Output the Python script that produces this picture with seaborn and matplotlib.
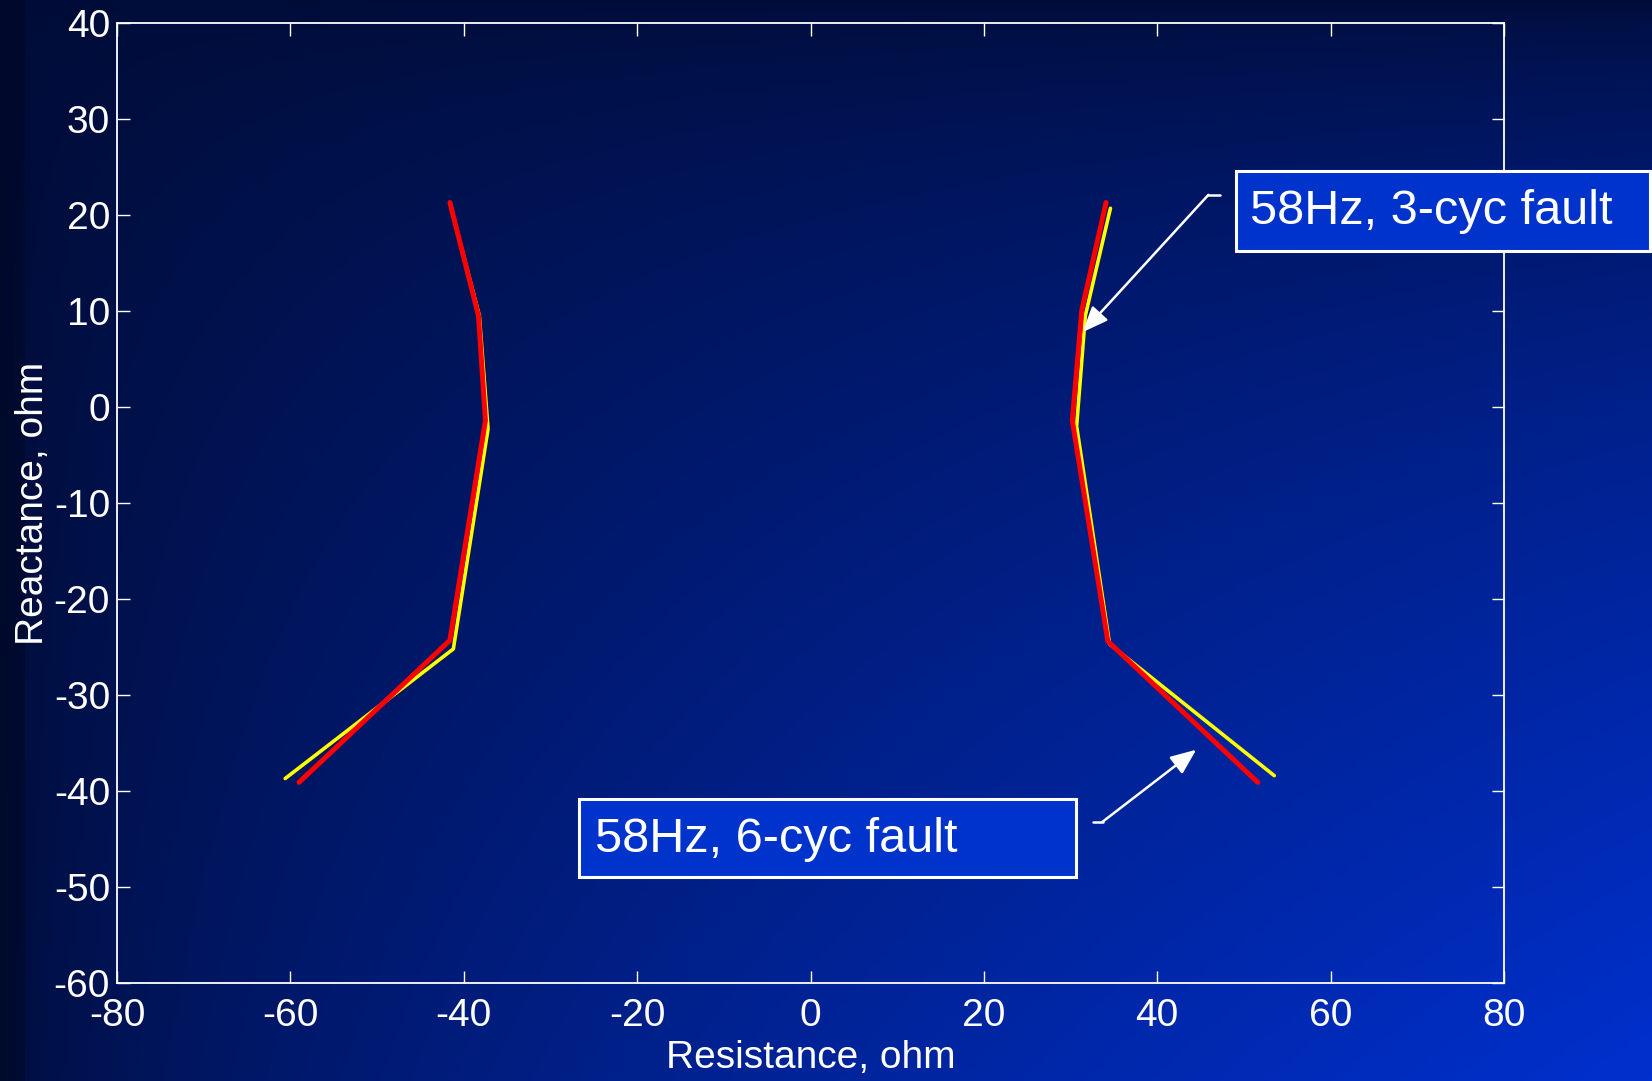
import numpy as np
import pandas as pd
import matplotlib
matplotlib.use("Agg")
import matplotlib.pyplot as plt
import matplotlib.patches as mpatches
import seaborn as sns

# ---- data ----
left_red_r = [-41.6, -38.3, -37.5, -41.6, -59.0]
left_red_x = [21.3, 9.5, -1.4, -24.3, -39.1]
left_yel_r = [-41.4, -38.2, -37.2, -41.2, -60.6]
left_yel_x = [20.5, 9.5, -2.3, -25.2, -38.7]
right_red_r = [34.1, 31.3, 30.2, 34.3, 51.6]
right_red_x = [21.3, 10.1, -1.4, -24.4, -39.1]
right_yel_r = [34.6, 31.7, 30.7, 34.5, 53.5]
right_yel_x = [20.7, 9.5, -2.0, -24.7, -38.4]

x_ticks = [-80, -60, -40, -20, 0, 20, 40, 60, 80]
y_ticks = [-60, -50, -40, -30, -20, -10, 0, 10, 20, 30, 40]
label_3cyc = "58Hz, 3-cyc fault"
label_6cyc = "58Hz, 6-cyc fault"
x_label = "Resistance, ohm"
y_label = "Reactance, ohm"

sns.set_style("ticks")
plt.rcParams["font.family"] = ["Liberation Sans", "DejaVu Sans"]

W, H = 1652, 1081
fig = plt.figure(figsize=(W / 100, H / 100), dpi=100)

# ---- gradient background ----
bg = fig.add_axes([0, 0, 1, 1], zorder=-10)
xx = np.linspace(0, 1, 400)[None, :]
yy = np.linspace(0, 1, 300)[:, None]  # 0 at top
f = (xx * yy) ** 0.6
dark = np.array([0, 12, 55]) / 255
bright = np.array([0, 48, 205]) / 255
img = dark[None, None, :] + (bright - dark)[None, None, :] * f[..., None]
strip = (np.linspace(0, W, 400) < 22)[None, :, None]
img = np.where(strip, img * 0.78, img)
bg.imshow(img, aspect="auto", extent=[0, 1, 0, 1], origin="upper")
bg.set_axis_off()

# ---- main axes ----
def fx(px):
    return px / W

def fy(py):
    return 1 - py / H

ax = fig.add_axes([fx(117), fy(983), (1504 - 117) / W, (983 - 23) / H])
ax.set_facecolor("none")

curves = [
    (left_yel_r, left_yel_x, "#FFFF00", 2.6),
    (right_yel_r, right_yel_x, "#FFFF00", 2.6),
    (left_red_r, left_red_x, "#FF0000", 3.6),
    (right_red_r, right_red_x, "#FF0000", 3.6),
]
for r, xv, c, lw in curves:
    df = pd.DataFrame({"R": r, "X": xv})
    sns.lineplot(data=df, x="R", y="X", sort=False, estimator=None,
                 color=c, lw=lw, ax=ax, solid_capstyle="round",
                 solid_joinstyle="round")

ax.set_xlim(-80, 80)
ax.set_ylim(-60, 40)
ax.set_xticks(x_ticks)
ax.set_yticks(y_ticks)
ax.set_xticklabels([str(v) for v in x_ticks])
ax.set_yticklabels([str(v) for v in y_ticks])
for s in ax.spines.values():
    s.set_color("white")
    s.set_linewidth(1.3)
    s.set_visible(True)
ax.tick_params(axis="both", which="both", direction="in", length=9,
               width=1.0, color="white", labelcolor="white",
               labelsize=28, top=True, right=True)
ax.tick_params(axis="x", pad=11)
ax.tick_params(axis="y", pad=5)
ax.set_xlabel(x_label, color="white", fontsize=28, labelpad=4)
ax.set_ylabel(y_label, color="white", fontsize=28, labelpad=2)

# ---- annotations ----
arrow_style = "-|>,head_length=0.6,head_width=0.25"
ax.plot([47.2, 45.9], [22.1, 22.1], color="white", lw=1.8, clip_on=False)
ax.annotate("", xy=(31.4, 7.8), xytext=(45.9, 22.1),
            arrowprops=dict(arrowstyle=arrow_style, color="white", lw=1.8,
                            mutation_scale=26, shrinkA=0, shrinkB=0))
ax.plot([32.6, 33.7], [-43.2, -43.2], color="white", lw=1.8, clip_on=False)
ax.annotate("", xy=(44.5, -35.7), xytext=(33.7, -43.2),
            arrowprops=dict(arrowstyle=arrow_style, color="white", lw=1.8,
                            mutation_scale=26, shrinkA=0, shrinkB=0))

def box(x0, y0, x1, y1, tx, ty, text):
    rect = mpatches.Rectangle((fx(x0), fy(y1)), fx(x1) - fx(x0), fy(y0) - fy(y1),
                              transform=fig.transFigure, facecolor="#0033CC",
                              edgecolor="white", lw=2.2, zorder=20)
    fig.add_artist(rect)
    fig.text(fx(tx), fy(ty), text, color="white", fontsize=35,
             ha="left", va="center", zorder=21)

box(1236, 171, 1650, 251, 1250, 212, label_3cyc)
box(579, 799, 1076, 877, 595, 839, label_6cyc)

fig.savefig("out.png", dpi=100)
